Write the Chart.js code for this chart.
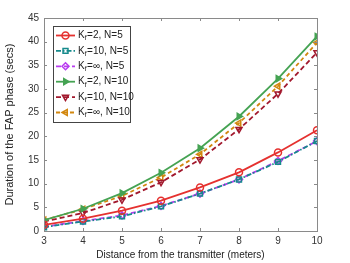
<!DOCTYPE html>
<html><head><meta charset="utf-8">
<script src="https://cdn.jsdelivr.net/npm/chart.js@4.4.1/dist/chart.umd.min.js"></script>
<style>html,body{margin:0;padding:0;background:#fff;}#wrap{width:350px;height:263px;position:relative;}</style>
</head><body><div id="wrap"><canvas id="c" width="350" height="263"></canvas></div>
<script>
const distances = [3, 4, 5, 6, 7, 8, 9, 10];
const kf2N5   = [1.3, 2.6, 4.3, 6.4, 9.2, 12.4, 16.6, 21.3];
const kf10N5  = [0.8, 2.0, 3.1, 5.2, 7.9, 10.9, 14.6, 19.0];
const kfInfN5 = [0.9, 2.1, 3.3, 5.3, 7.9, 10.9, 14.8, 19.0];
const kf2N10  = [2.3, 4.7, 8.0, 12.3, 17.5, 24.2, 32.2, 41.1];
const kf10N10 = [2.0, 3.8, 6.6, 10.3, 15.1, 21.5, 29.0, 37.7];
const kfInfN10= [2.3, 4.6, 7.4, 11.3, 16.2, 22.8, 30.6, 39.8];
const seriesKf = ['2', '10', '\u221E', '2', '10', '\u221E'];
const seriesN  = ['5', '5', '5', '10', '10', '10'];
const yTicks = [0, 5, 10, 15, 20, 25, 30, 35, 40, 45];
const xTicks = [3, 4, 5, 6, 7, 8, 9, 10];

const seriesData = [kf2N5, kf10N5, kfInfN5, kf2N10, kf10N10, kfInfN10];
const styles = [
  {color:'#e5312f', dash:[], style:'circle', rot:0, fill:false},
  {color:'#168a8c', dash:[5,2,1.5,2], style:'rect', rot:0, fill:false},
  {color:'#b93cf0', dash:[5,3], style:'rectRot', rot:0, fill:false},
  {color:'#45a353', dash:[], style:'triangle', rot:90, fill:true},
  {color:'#a2182d', dash:[5,3], style:'triangle', rot:180, fill:false},
  {color:'#d2870f', dash:[4,3], style:'triangle', rot:270, fill:false}
];

const datasets = seriesData.map((vals, i) => ({
  label: 'K_f=' + seriesKf[i] + ', N=' + seriesN[i],
  kf: seriesKf[i], n: seriesN[i],
  data: vals.map((v, j) => ({x: distances[j], y: v})),
  borderColor: styles[i].color,
  backgroundColor: styles[i].fill ? styles[i].color : 'rgba(255,255,255,0)',
  borderWidth: 1.8,
  borderDash: styles[i].dash,
  pointStyle: styles[i].style,
  pointRotation: styles[i].rot,
  pointRadius: 3.5,
  pointBorderWidth: 1.5,
  pointBackgroundColor: styles[i].fill ? styles[i].color : 'rgba(255,255,255,0)',
  pointBorderColor: styles[i].color,
  tension: 0
}));

const axisColor = '#8a8a8a';
const boxPlugin = {
  id: 'boxPlugin',
  afterDatasetsDraw(chart) {
    const {ctx, chartArea: a, scales} = chart;
    ctx.save();
    ctx.strokeStyle = axisColor;
    ctx.lineWidth = 1;
    ctx.setLineDash([]);
    ctx.strokeRect(Math.round(a.left) + 0.5, Math.round(a.top) + 0.5, Math.round(a.right - a.left), Math.round(a.bottom - a.top));
    const tl = 3;
    ctx.beginPath();
    xTicks.forEach(v => {
      const px = Math.round(scales.x.getPixelForValue(v)) + 0.5;
      ctx.moveTo(px, a.bottom); ctx.lineTo(px, a.bottom - tl);
      ctx.moveTo(px, a.top); ctx.lineTo(px, a.top + tl);
    });
    yTicks.forEach(v => {
      const py = Math.round(scales.y.getPixelForValue(v)) + 0.5;
      ctx.moveTo(a.left, py); ctx.lineTo(a.left + tl, py);
      ctx.moveTo(a.right, py); ctx.lineTo(a.right - tl, py);
    });
    ctx.stroke();
    ctx.restore();
  },
  afterDraw(chart) {
    const ctx = chart.ctx;
    const bx = 53.5, by = 26.5, bw = 77, bh = 96;
    ctx.save();
    ctx.fillStyle = '#fff';
    ctx.fillRect(bx, by, bw, bh);
    ctx.strokeStyle = '#444';
    ctx.lineWidth = 1;
    ctx.setLineDash([]);
    ctx.strokeRect(bx, by, bw, bh);
    const rowH = 15.4;
    chart.data.datasets.forEach((ds, i) => {
      const y = 35.5 + i * rowH;
      ctx.save();
      ctx.strokeStyle = ds.borderColor;
      ctx.lineWidth = ds.borderWidth;
      ctx.setLineDash(ds.borderDash);
      ctx.beginPath(); ctx.moveTo(56, y); ctx.lineTo(75, y); ctx.stroke();
      ctx.setLineDash([]);
      ctx.lineWidth = ds.pointBorderWidth;
      ctx.fillStyle = ds.pointBackgroundColor;
      Chart.helpers.drawPoint(ctx, {pointStyle: ds.pointStyle, rotation: ds.pointRotation, radius: ds.pointRadius, borderWidth: ds.pointBorderWidth}, 65.5, y);
      ctx.restore();
      ctx.fillStyle = '#222';
      ctx.textBaseline = 'middle';
      ctx.font = '10px "Liberation Sans", Arial, sans-serif';
      let x = 78;
      ctx.fillText('K', x, y);
      x += ctx.measureText('K').width;
      ctx.font = '7px "Liberation Sans", Arial, sans-serif';
      ctx.fillText('f', x, y + 3);
      x += ctx.measureText('f').width + 0.5;
      ctx.font = '10px "Liberation Sans", Arial, sans-serif';
      ctx.fillText('=' + ds.kf + ', N=' + ds.n, x, y);
    });
    ctx.restore();
  }
};

new Chart(document.getElementById('c'), {
  type: 'line',
  data: {datasets},
  options: {
    responsive: false,
    animation: false,
    layout: {padding: {top: 18, right: 33, left: 0, bottom: 0}},
    plugins: {legend: {display: false}, tooltip: {enabled: false}},
    scales: {
      x: {
        type: 'linear', min: 3, max: 10,
        afterFit(s) { s.height = 32; },
        afterBuildTicks(s) { s.ticks = xTicks.map(v => ({value: v})); },
        grid: {display: false, drawTicks: false},
        border: {display: false},
        ticks: {color: '#333', padding: 4, font: {size: 10, family: '"Liberation Sans", Arial, sans-serif'}, maxRotation: 0},
        title: {display: true, text: 'Distance from the transmitter (meters)', color: '#222', padding: {top: 0, bottom: 2}, font: {size: 10, family: '"Liberation Sans", Arial, sans-serif'}}
      },
      y: {
        type: 'linear', min: 0, max: 45,
        afterFit(s) { s.width = 44; },
        afterBuildTicks(s) { s.ticks = yTicks.map(v => ({value: v})); },
        grid: {display: false, drawTicks: false},
        border: {display: false},
        ticks: {color: '#333', padding: 5, font: {size: 10, family: '"Liberation Sans", Arial, sans-serif'}},
        title: {display: true, text: 'Duration of the FAP phase (secs)', color: '#222', padding: {top: 3, bottom: 0}, font: {size: 11, family: '"Liberation Sans", Arial, sans-serif'}}
      }
    }
  },
  plugins: [boxPlugin]
});
</script></body></html>
